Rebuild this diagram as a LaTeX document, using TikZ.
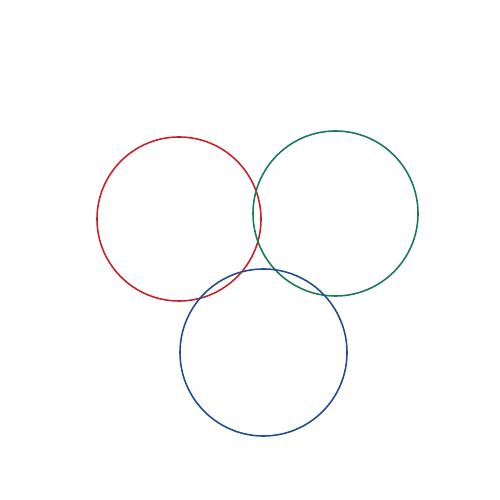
\documentclass[tikz,border=0pt]{standalone}
\usepackage{xcolor}
\usepackage{tikz}
\definecolor{ringred}{HTML}{C8202A}
\definecolor{ringgreen}{HTML}{1A7A52}
\definecolor{ringblue}{HTML}{1F4E8C}
\tikzset{
  ring/.style={circle, draw=#1, line width=0.9pt, inner sep=0pt}
}
\begin{document}
\begin{tikzpicture}
\useasboundingbox (0,0) rectangle (10,10);

%% Rings
\node[ring=ringred, minimum size=3.28cm] (redring) at (3.58,5.62) {};
\node[ring=ringgreen, minimum size=3.30cm] (greenring) at (6.71,5.73) {};
\node[ring=ringblue, minimum size=3.34cm] (bluering) at (5.27,2.95) {};
\end{tikzpicture}
\end{document}
